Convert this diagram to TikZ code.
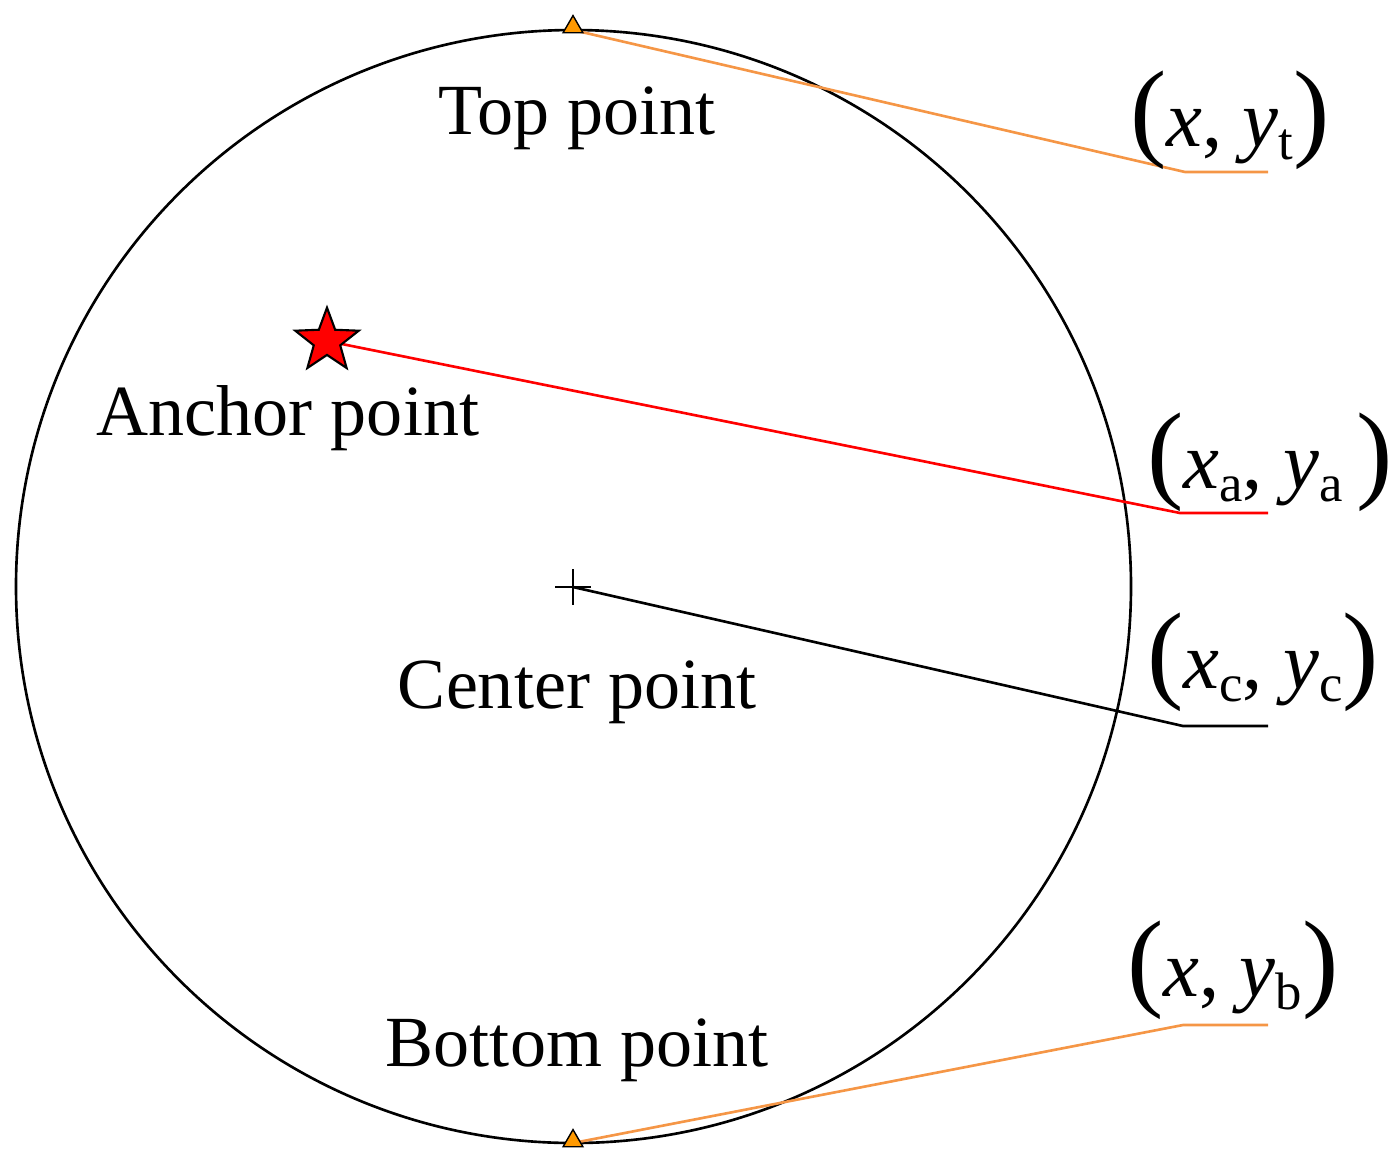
\documentclass[tikz,border=0pt]{standalone}
\usepackage{fontspec}
\setmainfont{Liberation Serif}
\usetikzlibrary{shapes.geometric}
\newcommand{\bigpar}[1]{{\fontsize{62}{62}\selectfont #1}}
\newcommand{\subs}[1]{\raisebox{-0.35ex}{\fontsize{30}{30}\selectfont #1}}
\begin{document}
\begin{tikzpicture}[x=0.02cm,y=-0.02cm,
  lbl/.style={font=\fontsize{41}{48}\selectfont, inner sep=0},
  crd/.style={font=\fontsize{46}{50}\selectfont, inner sep=0, anchor=west},
  tri/.style={regular polygon, regular polygon sides=3, draw=black, fill=orange!80!yellow, minimum size=13pt, inner sep=0, line width=0.8pt},
  org/.style={draw={rgb,255:red,245;green,150;blue,70}, line width=1.5pt}]
\useasboundingbox (0,0) rectangle (1396,1171);
\draw[line width=1.5pt] (573.5,586.5) ellipse [x radius=557.5, y radius=556.5];
\coordinate (T) at (573,30);
\coordinate (B) at (573,1143);
\coordinate (A) at (327,341);
\coordinate (C) at (573,587);
\coordinate (t1) at (1185,172); \coordinate (t2) at (1268,172);
\coordinate (a1) at (1180,513); \coordinate (a2) at (1268,513);
\coordinate (c1) at (1183,726); \coordinate (c2) at (1268,726);
\coordinate (b1) at (1183,1025); \coordinate (b2) at (1268,1025);
\draw[org] (T) -- (t1) -- (t2);
\draw[org] (B) -- (b1) -- (b2);
\draw[red, line width=1.5pt] (A) -- (a1) -- (a2);
\draw[line width=1.5pt] (C) -- (c1) -- (c2);
\node[tri] (tt) at (573,27) {};
\node[tri] (tb) at (573,1141) {};
\node[star, star points=5, star point ratio=2.4, draw=black, fill=red, minimum size=38pt, inner sep=0, line width=1.2pt] (st) at (A) {};
\draw[line width=1.5pt] (555,587) -- (591,587) (573,569) -- (573,605);
\node[lbl] (lt) at (577,118) {Top point};
\node[lbl] (la) at (288,418) {Anchor point};
\node[lbl] (lc) at (577,692) {Center point};
\node[lbl] (lb) at (577,1050) {Bottom point};
\node[crd] (nt) at (1130,120) {\bigpar{(}\textit{x}, \textit{y}\subs{t}\bigpar{)}};
\node[crd] (na) at (1147,462) {\bigpar{(}\textit{x}\subs{a}, \textit{y}\subs{a}\,\bigpar{)}};
\node[crd] (nc) at (1147,662) {\bigpar{(}\textit{x}\subs{c}, \textit{y}\subs{c}\bigpar{)}};
\node[crd] (nb) at (1127,970) {\bigpar{(}\textit{x}, \textit{y}\subs{b}\bigpar{)}};
\end{tikzpicture}
\end{document}
